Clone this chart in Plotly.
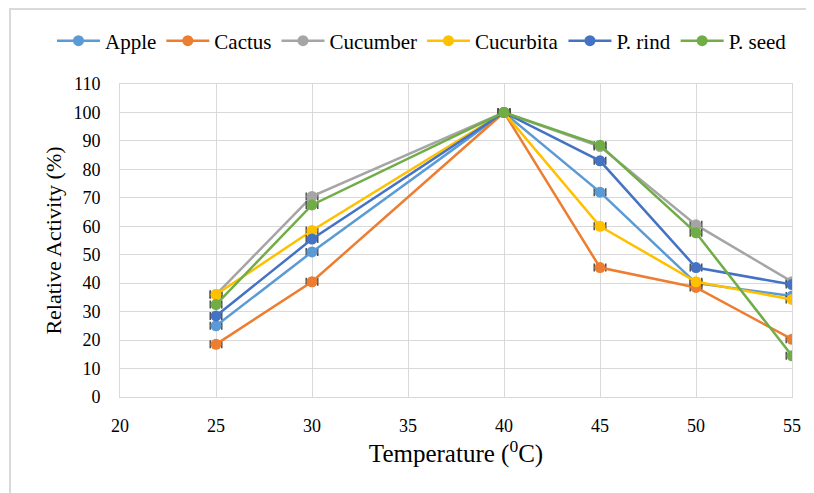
import plotly.graph_objects as go

temperature = [25, 30, 40, 45, 50, 55]
series_names = ["Apple", "Cactus", "Cucumber", "Cucurbita", "P. rind", "P. seed"]
apple = [25.0, 51.0, 100, 72.0, 40.0, 35.5]
cactus = [18.5, 40.5, 100, 45.5, 38.5, 20.3]
cucumber = [36.0, 70.5, 100, 88.0, 60.5, 40.5]
cucurbita = [36.0, 58.5, 100, 60.0, 40.5, 34.3]
p_rind = [28.5, 55.5, 100, 83.0, 45.5, 39.5]
p_seed = [32.5, 67.5, 100, 88.5, 57.7, 14.5]
error_x = [0.3, 0.3, 0.3, 0.3, 0.3, 0.3]
colors = ["#5B9BD5", "#ED7D31", "#A5A5A5", "#FFC000", "#4472C4", "#70AD47"]
x_ticks = [20, 25, 30, 35, 40, 45, 50, 55]
y_ticks = [0, 10, 20, 30, 40, 50, 60, 70, 80, 90, 100, 110]

all_values = [apple, cactus, cucumber, cucurbita, p_rind, p_seed]

FONT = "Liberation Serif, Times New Roman, serif"
fig = go.Figure()
for name, vals, col in zip(series_names, all_values, colors):
    fig.add_trace(go.Scatter(
        x=temperature, y=vals, name=name, mode="lines+markers",
        line=dict(color=col, width=2.5),
        marker=dict(color=col, size=11),
        error_x=dict(type="data", array=error_x, color="#505050", thickness=1.5, width=4),
    ))

# page body has an 8px margin; figure coordinates = screen - 8
OFF = 8
W, H = 814 - OFF, 493 - OFF
L, T = 120 - OFF, 84 - OFF
R = W - (792 - OFF)
B = H - (397 - OFF)
pw, ph = W - L - R, H - T - B

def px(xs):
    return (xs - OFF - L) / pw

def py(ys):
    return (H - B - (ys - OFF)) / ph

fig.add_shape(type="rect", xref="paper", yref="paper",
              x0=px(10), x1=px(840), y0=py(9), y1=py(520),
              line=dict(color="#D9D9D9", width=2), layer="below")

fig.update_layout(
    width=W, height=H,
    margin=dict(l=L, r=R, t=T, b=B),
    paper_bgcolor="white", plot_bgcolor="white",
    font=dict(family=FONT, color="black", size=18),
    showlegend=True,
    legend=dict(orientation="h", x=px(52), y=py(41), xanchor="left", yanchor="middle",
                font=dict(family=FONT, size=21, color="black"), itemwidth=43, tracegroupgap=0,
                bgcolor="rgba(0,0,0,0)"),
    xaxis=dict(range=[20, 55], tickvals=x_ticks, ticktext=[str(v) for v in x_ticks],
               showgrid=True, gridcolor="#D9D9D9", gridwidth=1,
               showline=True, linecolor="#D9D9D9", linewidth=1, mirror=True,
               zeroline=False, ticks="outside", ticklen=12, tickcolor="rgba(0,0,0,0)",
               tickfont=dict(family=FONT, size=18, color="black"),
               title=dict(text="Temperature (<sup>0</sup>C)", font=dict(family=FONT, size=25, color="black"), standoff=6)),
    yaxis=dict(range=[0, 110], tickvals=y_ticks, ticktext=[str(v) for v in y_ticks],
               showgrid=True, gridcolor="#D9D9D9", gridwidth=1,
               showline=True, linecolor="#D9D9D9", linewidth=1, mirror=True,
               zeroline=False, ticks="outside", ticklen=15, tickcolor="rgba(0,0,0,0)",
               tickfont=dict(family=FONT, size=18, color="black"),
               title=dict(text="Relative Activity (%)", font=dict(family=FONT, size=22, color="black"), standoff=5)),
)

fig.write_html("out.html")
